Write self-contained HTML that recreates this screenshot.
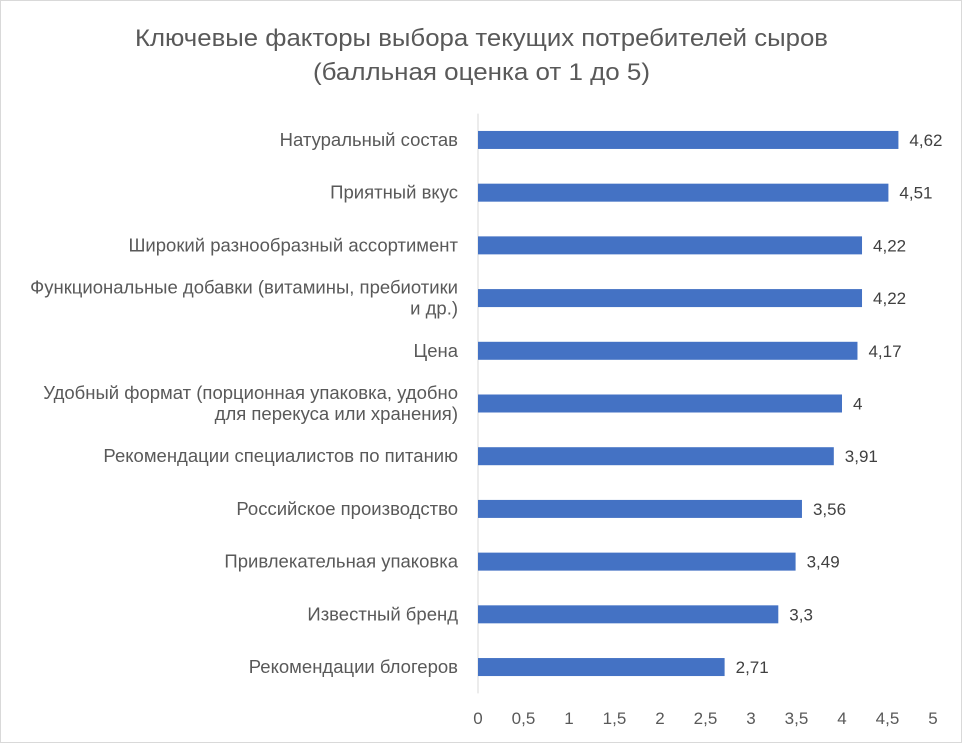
<!DOCTYPE html>
<html><head><meta charset="utf-8">
<style>
body{margin:0;background:#fff;}
svg{display:block;font-family:"Liberation Sans","DejaVu Sans",sans-serif;}
</style></head>
<body>
<svg id="chart" width="962" height="743" viewBox="0 0 962 743">
<rect x="0.5" y="0.5" width="961" height="742" fill="#fff" stroke="#d9d9d9"/>
<text x="135" y="46" textLength="693" lengthAdjust="spacingAndGlyphs" font-size="24" fill="#595959">Ключевые факторы выбора текущих потребителей сыров</text>
<text x="313" y="80" textLength="337" lengthAdjust="spacingAndGlyphs" font-size="24" fill="#595959">(балльная оценка от 1 до 5)</text>
<g id="plot"></g>
</svg>
<script>
const categories=[["Натуральный состав"],["Приятный вкус"],["Широкий разнообразный ассортимент"],["Функциональные добавки (витамины, пребиотики","и др.)"],["Цена"],["Удобный формат (порционная упаковка, удобно","для перекуса или хранения)"],["Рекомендации специалистов по питанию"],["Российское производство"],["Привлекательная упаковка"],["Известный бренд"],["Рекомендации блогеров"]];
const values=[4.62,4.51,4.22,4.22,4.17,4,3.91,3.56,3.49,3.3,2.71];
const valueLabels=["4,62","4,51","4,22","4,22","4,17","4","3,91","3,56","3,49","3,3","2,71"];
const ticks=[0,0.5,1,1.5,2,2.5,3,3.5,4,4.5,5];
const tickLabels=["0","0,5","1","1,5","2","2,5","3","3,5","4","4,5","5"];
const ns="http://www.w3.org/2000/svg";
const plotG=document.getElementById('plot');
const x0=478,x1=933,plotTop=113.6,plotBottom=693.4;
const xs=v=>x0+(v/5)*(x1-x0);
const band=(plotBottom-plotTop)/categories.length;
const yc=i=>plotTop+band*(i+0.5);
function mk(t,a){const e=document.createElementNS(ns,t);for(const k in a)e.setAttribute(k,a[k]);plotG.appendChild(e);return e;}
const ax=mk('line',{x1:x0,x2:x0,y1:plotTop,y2:plotBottom,stroke:'#d9d9d9','stroke-width':1});


ticks.forEach((t,i)=>{const e=mk('text',{x:xs(t),y:724,'text-anchor':'middle','font-size':17,fill:'#595959'});e.textContent=tickLabels[i];

});
values.forEach((v,i)=>{const y=yc(i);
const r=mk('rect',{x:x0,y:y-9,width:xs(v)-x0,height:18,fill:'#4472c4'});


const l=mk('text',{x:xs(v)+11,y:y+6,'font-size':17,fill:'#404040'});l.textContent=valueLabels[i];


const lines=categories[i];
lines.forEach((s,j)=>{const c=mk('text',{x:458,y:y+6+(j-(lines.length-1)/2)*21,'text-anchor':'end','font-size':18.5,fill:'#595959'});c.textContent=s;

});
});
</script>
</body></html>
